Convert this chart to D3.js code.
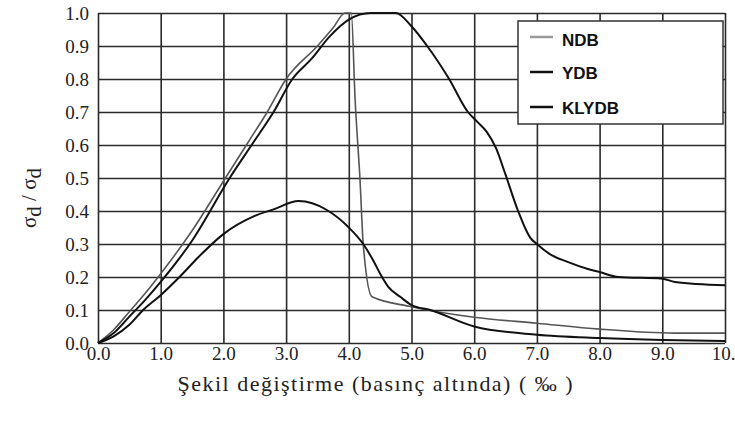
<!DOCTYPE html>
<html>
<head>
<meta charset="utf-8">
<script src="https://cdn.jsdelivr.net/npm/d3@7"></script>
<style>
  body { margin: 0; background: #fff; }
  .tick text { font-family: "Liberation Serif", "Times New Roman", serif; font-size: 19px; fill: #222; }
</style>
</head>
<body>
<div id="canvas"></div>
<script>
// axis ticks
const xTicks = [0, 1, 2, 3, 4, 5, 6, 7, 8, 9, 10];
const xTickLabels = ["0.0", "1.0", "2.0", "3.0", "4.0", "5.0", "6.0", "7.0", "8.0", "9.0", "10."];
const yTicks = [0, 0.1, 0.2, 0.3, 0.4, 0.5, 0.6, 0.7, 0.8, 0.9, 1.0];
const yTickLabels = ["0.0", "0.1", "0.2", "0.3", "0.4", "0.5", "0.6", "0.7", "0.8", "0.9", "1.0"];

// NDB
const ndbStrain = [0, 0.25, 0.5, 0.75, 1.0, 1.5, 2.0, 2.4, 2.7, 3.0, 3.5, 3.75, 3.94, 4.04, 4.1, 4.18, 4.23, 4.37, 5.0, 6.0, 7.0, 8.0, 9.2, 10.0];
const ndbStress = [0, 0.04, 0.095, 0.15, 0.21, 0.34, 0.49, 0.61, 0.7, 0.8, 0.9, 0.955, 1.0, 1.0, 0.74, 0.49, 0.3, 0.14, 0.11, 0.078, 0.06, 0.042, 0.03, 0.03];

// YDB
const ydbStrain = [0, 0.25, 0.5, 0.75, 1.0, 1.5, 2.1, 2.45, 2.8, 3.1, 3.4, 3.7, 4.0, 4.35, 4.75, 5.0, 5.25, 5.6, 5.9, 6.05, 6.2, 6.35, 6.5, 6.7, 6.89, 7.0, 7.2, 7.5, 7.8, 8.0, 8.3, 9.0, 9.2, 10.0];
const ydbStress = [0, 0.03, 0.08, 0.13, 0.185, 0.31, 0.5, 0.6, 0.7, 0.8, 0.86, 0.93, 0.98, 1.0, 1.0, 0.96, 0.9, 0.8, 0.7, 0.67, 0.64, 0.59, 0.51, 0.4, 0.32, 0.3, 0.27, 0.245, 0.225, 0.215, 0.2, 0.195, 0.185, 0.175];

// KLYDB
const klydbStrain = [0, 0.25, 0.5, 0.72, 1.0, 1.3, 1.6, 2.0, 2.5, 2.8, 3.2, 3.65, 4.0, 4.23, 4.39, 4.5, 4.63, 4.82, 5.0, 5.3, 6.0, 7.0, 8.0, 9.0, 10.0];
const klydbStress = [0, 0.02, 0.055, 0.1, 0.145, 0.2, 0.26, 0.33, 0.385, 0.405, 0.43, 0.403, 0.35, 0.3, 0.25, 0.21, 0.17, 0.14, 0.115, 0.1, 0.05, 0.025, 0.015, 0.009, 0.006];

const seriesNames = ["NDB", "YDB", "KLYDB"];

const width = 735;
const height = 422;
const margin = { top: 13, left: 98, bottom: 79, right: 10 };
const iwidth = width - margin.left - margin.right;
const iheight = height - margin.top - margin.bottom;

const svg = d3.select("#canvas").append("svg")
  .attr("width", width)
  .attr("height", height);

const g = svg.append("g")
  .attr("transform", `translate(${margin.left},${margin.top})`);

const x = d3.scaleLinear().domain([0, 10]).range([0, iwidth]);
const y = d3.scaleLinear().domain([0, 1]).range([iheight, 0]);

// grid + tick labels
const xAxis = g.append("g")
  .attr("transform", `translate(0,${iheight})`)
  .call(d3.axisBottom(x).tickValues(xTicks)
    .tickFormat((d, i) => xTickLabels[i])
    .tickSizeInner(-iheight).tickSizeOuter(0).tickPadding(4))
  .call((a) => a.select(".domain").remove());

// last label "10." is clipped by the page edge in the original, nudge it in a bit
xAxis.selectAll(".tick text").filter((d) => d === 10).attr("dx", -2);

g.append("g")
  .call(d3.axisLeft(y).tickValues(yTicks)
    .tickFormat((d, i) => yTickLabels[i])
    .tickSizeInner(-iwidth).tickSizeOuter(0).tickPadding(9))
  .call((a) => a.select(".domain").remove());

g.selectAll(".tick line")
  .attr("stroke", "#2a2a2a")
  .attr("stroke-width", 1.6);

// curves
const line = d3.line()
  .x((d) => x(d[0]))
  .y((d) => y(d[1]))
  .curve(d3.curveMonotoneX);

const series = [
  { name: "NDB", xs: ndbStrain, ys: ndbStress, color: "#555", w: 1.6 },
  { name: "YDB", xs: ydbStrain, ys: ydbStress, color: "#111", w: 2 },
  { name: "KLYDB", xs: klydbStrain, ys: klydbStress, color: "#111", w: 2 }
];

g.selectAll(".curve")
  .data(series)
  .enter()
  .append("path")
  .attr("class", "curve")
  .attr("fill", "none")
  .attr("stroke", (d) => d.color)
  .attr("stroke-width", (d) => d.w)
  .attr("d", (d) => line(d.xs.map((v, i) => [v, d.ys[i]])));

// legend
const legend = svg.append("g").attr("transform", "translate(518,21)");
legend.append("rect")
  .attr("width", 205)
  .attr("height", 103)
  .attr("fill", "#fff")
  .attr("stroke", "#333")
  .attr("stroke-width", 1.5);

const legendY = [16, 51, 86];
const legendColors = ["#999", "#111", "#111"];
seriesNames.forEach((name, i) => {
  legend.append("line")
    .attr("x1", 12).attr("x2", 35)
    .attr("y1", legendY[i]).attr("y2", legendY[i])
    .attr("stroke", legendColors[i])
    .attr("stroke-width", 2.5);
  legend.append("text")
    .attr("x", 44)
    .attr("y", legendY[i] + (i === 0 ? 9 : 7))
    .style("font-family", "'Liberation Sans', Arial, sans-serif")
    .style("font-weight", "bold")
    .style("font-size", "17px")
    .attr("fill", "#111")
    .text(name);
});

// axis titles
svg.append("text")
  .attr("x", 375)
  .attr("y", 391)
  .attr("text-anchor", "middle")
  .attr("textLength", 395)
  .attr("lengthAdjust", "spacing")
  .style("font-family", "'Liberation Serif', 'Times New Roman', serif")
  .style("font-size", "22px")
  .attr("fill", "#222")
  .text("Şekil değiştirme (basınç altında) ( ‰ )");

const ylab = svg.append("text")
  .attr("transform", "translate(36,198) rotate(-90)")
  .attr("text-anchor", "middle")
  .style("font-family", "'Liberation Serif', 'Times New Roman', serif")
  .style("font-size", "21px")
  .attr("fill", "#222");
ylab.append("tspan").text("σ");
ylab.append("tspan").attr("dy", 5).text("d");
ylab.append("tspan").attr("dy", -5).text(" / σ");
ylab.append("tspan").attr("dy", 5).text("d");
</script>
</body>
</html>
